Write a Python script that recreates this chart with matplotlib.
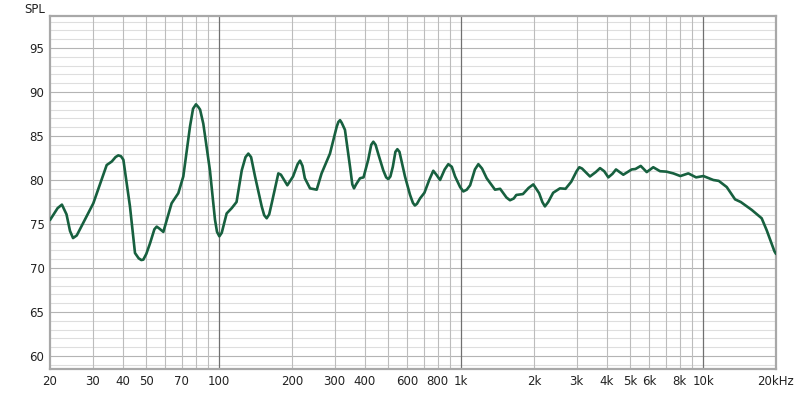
import numpy as np
import matplotlib.pyplot as plt
from matplotlib.ticker import FixedLocator, NullFormatter

## frequency response (Hz, dB SPL)
freq = [20, 21.5, 22.4, 23.4, 24.2, 24.9, 25.8, 30.2, 34.3, 36.0, 37.3, 38.3,
        39.3, 40.2, 42.8, 44.9, 46.5, 47.7, 48.6, 50.0, 51.8, 54.0, 55.2, 56.5,
        58.8, 63.6, 67.8, 71.1, 75.8, 78.0, 80.2, 82.0, 83.4, 86.0, 91.6, 96.1,
        98.0, 100.2, 102.5, 107.4, 112.7, 118.0, 124.0, 128.5, 132.0, 135.5,
        140.7, 149.9, 153.5, 157.2, 161.0, 164.9, 175.6, 180.0, 191.3, 202.0,
        211.0, 215.9, 221.0, 226.0, 237.4, 253.0, 265.0, 287.0, 306.0, 311.0,
        315.9, 321.0, 331.0, 347.4, 355.0, 360.8, 368.0, 382.0, 395.0, 413.0,
        425.0, 433.6, 443.0, 454.0, 476.6, 490.0, 500.0, 510.0, 522.0, 535.0,
        545.0, 556.0, 586.0, 615.0, 632.0, 644.0, 657.0, 676.0, 705.0, 738.0,
        767.0, 790.0, 818.0, 855.0, 885.0, 915.0, 944.0, 990.0, 1021, 1055,
        1089, 1140, 1178, 1220, 1275, 1380, 1449, 1540, 1592, 1650, 1690,
        1800, 1900, 1987, 2100, 2165, 2219, 2290, 2400, 2560, 2700, 2850, 3000,
        3078, 3160, 3407, 3600, 3749, 3900, 4057, 4220, 4364, 4678, 5068, 5250,
        5521, 5846, 6050, 6221, 6634, 7050, 7530, 8050, 8684, 9350, 10022,
        11015, 11600, 12515, 13547, 14300, 15878, 17450, 18300, 19700, 20000]
spl = [75.45, 76.8, 77.2, 76.1, 74.2, 73.4, 73.7, 77.35, 81.7, 82.1, 82.6, 82.8,
       82.7, 82.3, 77.0, 71.7, 71.1, 70.9, 70.95, 71.6, 72.8, 74.4, 74.7, 74.5,
       74.1, 77.35, 78.5, 80.4, 86.1, 88.1, 88.6, 88.3, 88.0, 86.4, 81.1, 75.5,
       74.1, 73.6, 74.0, 76.2, 76.8, 77.5, 81.1, 82.6, 83.0, 82.6,
       80.4, 77.0, 76.0, 75.65, 76.1, 77.35, 80.75, 80.6, 79.4, 80.4,
       81.8, 82.2, 81.6, 80.2, 79.05, 78.9, 80.75, 83.0, 86.05, 86.6,
       86.8, 86.5, 85.7, 81.5, 79.5, 79.05, 79.5, 80.2, 80.3, 82.3,
       84.0, 84.35, 84.0, 83.0, 81.1, 80.3, 80.1, 80.4, 81.5, 83.2,
       83.5, 83.2, 80.4, 78.3, 77.4, 77.1, 77.3, 77.9, 78.55, 80.0,
       81.05, 80.6, 80.0, 81.2, 81.8, 81.5, 80.4, 79.2, 78.7, 78.9,
       79.4, 81.2, 81.8, 81.3, 80.2, 78.9, 79.0, 78.0, 77.7, 77.9, 78.3,
       78.4, 79.1, 79.5, 78.5, 77.5, 77.0, 77.5, 78.55, 79.05, 79.0, 79.8, 81.0,
       81.45, 81.3, 80.4, 80.9, 81.35, 81.0, 80.3, 80.7, 81.2, 80.6, 81.2, 81.25,
       81.6, 80.9, 81.2, 81.45, 81.0, 80.95, 80.75, 80.45, 80.75, 80.3, 80.45,
       80.0, 79.9, 79.2, 77.8, 77.5, 76.6, 75.65, 74.3, 71.9, 71.6]

xtick_pos = [20, 30, 40, 50, 70, 100, 200, 300, 400, 600, 800, 1000,
             2000, 3000, 4000, 5000, 6000, 8000, 10000, 20000]
xtick_lab = ['20', '30', '40', '50', '70', '100', '200', '300', '400', '600',
             '800', '1k', '2k', '3k', '4k', '5k', '6k', '8k', '10k', '20kHz']
ytick_pos = [60, 65, 70, 75, 80, 85, 90, 95]

fig = plt.figure(figsize=(8, 3.93), dpi=100)
ax = fig.add_axes([0.0625, 0.0611, 0.9075, 0.8982])
ax.set_xscale('log')
ax.set_xlim(20, 20000)
ax.set_ylim(58.52, 98.64)

## grid: light 1 dB lines, darker 5 dB lines, decade lines darkest
for v in np.arange(59, 99):
    ax.axhline(v, color='#dedede' if v % 5 else '#b4b4b4', lw=0.8, zorder=0)
minor_f = [f * m for f in (10, 100, 1000) for m in range(2, 10)]
for f in minor_f:
    if 20 < f < 20000:
        ax.axvline(f, color='#bcbcbc', lw=0.8, zorder=0)
for f in (100, 1000, 10000):
    ax.axvline(f, color='#707070', lw=0.9, zorder=0)

ax.plot(freq, spl, color='#17603f', lw=1.9, zorder=3,
        solid_joinstyle='round', solid_capstyle='round')

ax.xaxis.set_major_locator(FixedLocator(xtick_pos))
ax.set_xticklabels(xtick_lab)
ax.xaxis.set_minor_formatter(NullFormatter())
ax.xaxis.set_minor_locator(FixedLocator([]))
ax.set_yticks(ytick_pos)
ax.tick_params(length=0, labelsize=8.5, colors='#222222', pad=4)

for s in ax.spines.values():
    s.set_color('#a8a8a8')
    s.set_linewidth(1.6)

fig.text(0.03, 0.975, 'SPL', fontsize=8.5, color='#222222', va='center')

fig.savefig('out.png', dpi=100)
